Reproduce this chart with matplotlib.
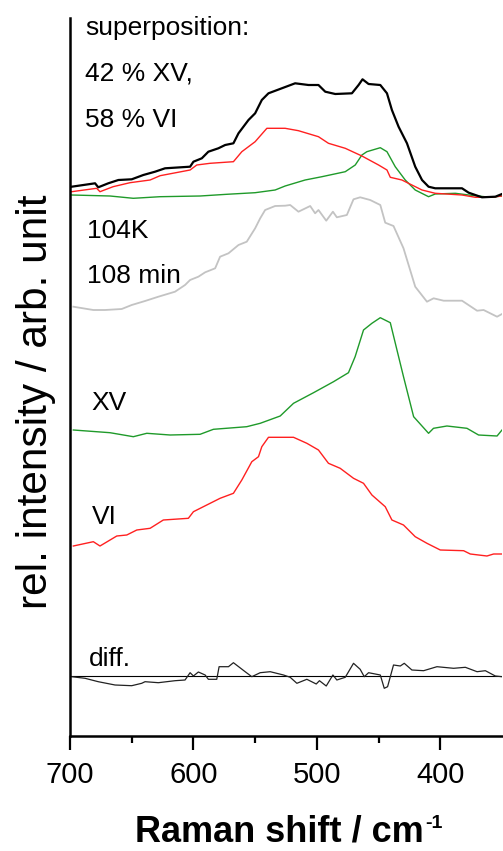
import matplotlib
matplotlib.use("Agg")
import matplotlib.pyplot as plt

plt.rcParams['font.family'] = ['Liberation Sans', 'DejaVu Sans']

# superposition fit (black) and its two weighted components
sup_x = [698.6, 679.7, 677.1, 669.0, 660.8, 650.0, 640.6, 631.1, 623.0, 602.7, 600.0, 593.2,
         587.9, 579.8, 574.3, 567.6, 563.5, 555.4, 550.0, 544.6, 539.2, 528.4, 517.6, 506.8,
         498.7, 493.2, 485.1, 471.6, 466.2, 463.0, 458.1, 448.6, 443.2, 439.2, 433.8, 427.0,
         420.3, 414.8, 409.5, 404.1, 382.4, 377.0, 366.2, 355.4, 350.0]
sup_y = [549.3, 552.7, 548.7, 552.7, 556, 556.7, 561, 564.3, 567.7, 569.3, 574.3, 577.7,
         584.3, 587.7, 591, 592.7, 602.7, 616, 622.7, 636, 642.7, 647.7, 652.7, 651,
         651, 644.3, 642, 642.7, 651, 656.7, 652, 651, 642.7, 626, 609.3, 592.7,
         569.3, 556, 549.3, 547.7, 547.7, 543.3, 538.7, 539.3, 542]

sup_vi_x = [698.6, 678.4, 675.7, 665.1, 651.4, 635.1, 627.0, 602.7, 597.3, 586.5, 567.6, 560.8,
            550.0, 540.5, 525.7, 514.9, 498.7, 490.6, 477.0, 463.5, 450.0, 443.2, 440.5, 431.1,
            423.0, 414.8, 404.1, 382.4, 371.6, 359.5, 350.0]
sup_vi_y = [544.3, 547.7, 544.3, 549.3, 553.3, 556, 560.3, 566, 571, 572.7, 574.3, 584.3,
            594.3, 607.7, 607.7, 605.3, 599.3, 592.7, 587.7, 580, 571, 566, 558.7, 556,
            551, 546, 542.7, 541, 538.7, 538.7, 540]

sup_xv_x = [698.6, 667.6, 648.7, 627.0, 594.6, 573.0, 550.0, 533.8, 525.7, 509.5, 495.9, 477.0,
            468.9, 463.5, 459.5, 448.6, 443.2, 436.5, 428.4, 420.3, 409.5, 404.1, 387.8, 377.0,
            359.5, 350.0]
sup_xv_y = [541, 540, 537.7, 539.3, 540, 541.7, 543.3, 546, 550, 556, 559.3, 564.3,
            571, 581, 584.3, 588.3, 584.3, 569.3, 556, 546, 539.3, 542, 542.7, 541,
            538.7, 540]

# measured spectrum 104K, 108 min (grey)
meas_x = [697.3, 681.1, 671.6, 658.1, 650.0, 639.2, 628.4, 614.9, 606.8, 602.7, 596.0, 590.5,
          582.4, 578.4, 571.6, 563.5, 556.8, 550.0, 545.9, 541.9, 533.8, 525.7, 521.6, 514.9,
          505.4, 501.4, 498.7, 492.4, 487.0, 483.8, 475.7, 470.3, 464.9, 456.8, 448.6, 444.6,
          437.9, 429.8, 420.3, 410.8, 405.4, 397.3, 382.4, 370.2, 364.9, 354.0, 350.0]
meas_y = [429.3, 426, 426, 427, 431, 435, 439.3, 444.3, 451, 456, 459.3, 463.7,
          467.7, 479.3, 482.7, 491, 494.3, 507.7, 517.7, 526, 530, 530.3, 531, 524.3,
          530, 522.7, 526, 515.3, 524.3, 518.7, 521, 536.7, 538.7, 536, 531, 513.3,
          510, 487.7, 449.3, 434.3, 437.7, 435.3, 435.3, 425.3, 426, 419.3, 422]

# reference spectrum ice XV (green)
xv_x = [697.3, 667.6, 648.7, 637.8, 618.9, 594.6, 583.8, 556.8, 545.9, 529.7, 518.9, 502.7,
        486.5, 474.4, 469.0, 462.2, 455.4, 448.6, 440.5, 435.1, 429.8, 421.6, 409.5, 405.5,
        394.6, 378.4, 369.0, 354.0, 350.0]
xv_y = [306, 303.3, 299.3, 302.7, 301, 301.7, 306.7, 309.3, 312.7, 320, 332.7, 343.3,
        354.3, 363.3, 379.3, 406, 412.7, 418.3, 413.3, 386, 359.3, 319.3, 302.7, 307.7,
        310, 307.7, 301, 300, 306]

# reference spectrum ice VI (red)
vi_x = [697.3, 681.1, 675.7, 662.1, 654.0, 645.9, 635.1, 624.4, 604.1, 600.0, 589.2, 578.4,
        567.6, 560.8, 552.7, 547.3, 544.6, 539.2, 518.9, 508.1, 498.7, 490.6, 481.1, 470.3,
        462.2, 455.4, 444.6, 439.2, 429.8, 420.3, 410.8, 400.0, 381.1, 375.7, 362.2, 356.8, 350.0]
vi_y = [190, 194.3, 190, 200, 201, 206, 207.7, 216, 217.7, 224.3, 231, 237.7,
        242.7, 256, 274.3, 279.3, 289.3, 298.7, 298.7, 292.7, 286, 272.7, 267.7, 257.7,
        252.7, 241, 229.3, 216, 211, 199.3, 192.7, 186, 185.3, 182, 180, 182, 182]

# difference measured - superposition
diff_x = [698.6, 687.8, 677.1, 663.5, 650.0, 641.9, 639.2, 628.4, 614.9, 606.8, 602.7, 600.0,
          596.0, 590.5, 587.9, 581.1, 579.2, 571.6, 567.6, 558.1, 552.7, 545.9, 537.8, 527.0,
          521.6, 516.2, 508.1, 500.5, 497.9, 492.4, 487.0, 483.8, 477.0, 470.3, 464.9, 461.6,
          458.1, 448.6, 445.4, 442.7, 437.9, 432.4, 429.2, 423.0, 413.5, 402.7, 389.2, 379.7,
          370.2, 363.5, 355.4, 350.0]
diff_y = [59.3, 57.7, 54.3, 51, 50.3, 52.7, 54.3, 53.3, 55.3, 56, 63.3, 60,
          64, 61, 56.7, 56.7, 69.3, 69.3, 73.3, 64.3, 59.3, 63.3, 64.3, 61,
          58.7, 52.7, 56.7, 52, 55.3, 50, 61, 56, 58.7, 72.7, 66.7, 59.3,
          63.3, 61, 47.7, 49.3, 71, 70, 72.7, 66, 65.3, 69.3, 67.7, 68.7,
          64.3, 65.3, 60, 59.3]
diff_zero = 60

fig = plt.figure(figsize=(5.03, 8.51), dpi=100)
ax = fig.add_axes([70/503, 115/851, 432/503, 718/851])

ax.plot(meas_x, meas_y, color='#c3c3c3', lw=1.3)
ax.plot(xv_x, xv_y, color='#1f9a2a', lw=1.0)
ax.plot(vi_x, vi_y, color='#ff2020', lw=1.0)
ax.plot(sup_xv_x, sup_xv_y, color='#1f9a2a', lw=1.0)
ax.plot(sup_vi_x, sup_vi_y, color='#ff2020', lw=1.0)
ax.plot(sup_x, sup_y, color='black', lw=1.6)
ax.axhline(diff_zero, color='black', lw=0.8)
ax.plot(diff_x, diff_y, color='#222222', lw=0.9)

ax.set_xlim(700, 350)
ax.set_ylim(0, 718)
ax.set_xticks([700, 600, 500, 400])
ax.set_xticks([650, 550, 450], minor=True)
ax.set_yticks([])
ax.tick_params(axis='x', which='major', length=10, width=1.6, labelsize=21, pad=8)
ax.tick_params(axis='x', which='minor', length=5, width=1.6)
for s in ['top', 'right']:
    ax.spines[s].set_visible(False)
ax.spines['left'].set_linewidth(1.8)
ax.spines['bottom'].set_linewidth(1.8)

fs = 19
ax.text(688, 701, 'superposition:', fontsize=fs, va='baseline')
ax.text(688, 655, '42 % XV,', fontsize=fs, va='baseline')
ax.text(688, 609, '58 % VI', fontsize=fs, va='baseline')
ax.text(686.5, 498, '104K', fontsize=fs, va='baseline')
ax.text(686.5, 453, '108 min', fontsize=fs, va='baseline')
ax.text(682.4, 326, 'XV', fontsize=fs, va='baseline')
ax.text(682.4, 212, 'VI', fontsize=fs, va='baseline')
ax.text(684.6, 70, 'diff.', fontsize=fs, va='baseline')

xl = fig.text(279/503, 1 - 841/851, 'Raman shift / cm', fontsize=26,
              fontweight='bold', ha='center', va='baseline')
ax.annotate('-1', xy=(1, 1), xycoords=xl, xytext=(1, -1), textcoords='offset points',
            fontsize=14, fontweight='bold', ha='left', va='top', annotation_clip=False)
fig.text(36/503, 1 - 402/851, 'rel. intensity / arb. unit', fontsize=30.5,
         rotation=90, ha='center', va='center')

fig.savefig('out.png', dpi=100)
